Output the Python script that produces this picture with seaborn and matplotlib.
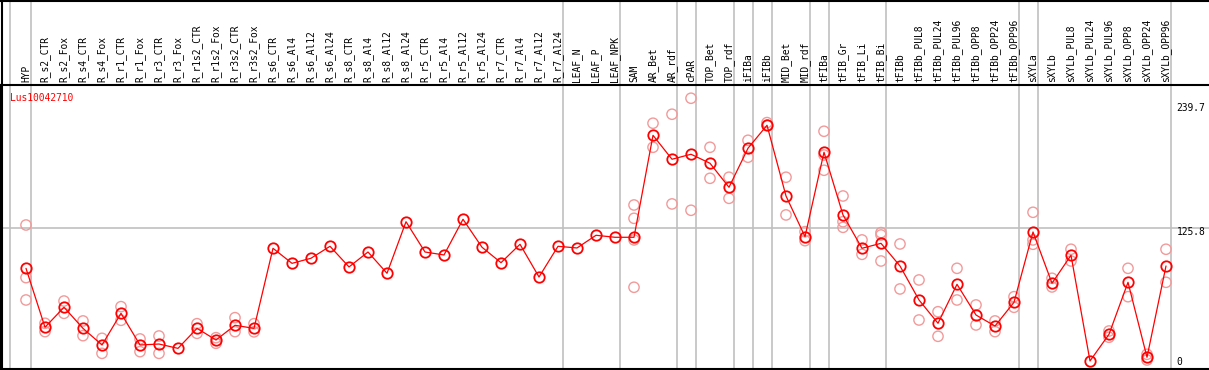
import pandas as pd
import matplotlib
matplotlib.use("Agg")
import matplotlib.pyplot as plt
from matplotlib.lines import Line2D
import seaborn as sns

gene = "Lus10042710"

samples = ["HYP", "R_s2_CTR", "R_s2_Fox", "R_s4_CTR", "R_s4_Fox", "R_r1_CTR", "R_r1_Fox",
           "R_r3_CTR", "R_r3_Fox", "R_r1s2_CTR", "R_r1s2_Fox", "R_r3s2_CTR", "R_r3s2_Fox",
           "R_s6_CTR", "R_s6_Al4", "R_s6_Al12", "R_s6_Al24", "R_s8_CTR", "R_s8_Al4",
           "R_s8_Al12", "R_s8_Al24", "R_r5_CTR", "R_r5_Al4", "R_r5_Al12", "R_r5_Al24",
           "R_r7_CTR", "R_r7_Al4", "R_r7_Al12", "R_r7_Al24", "LEAF_N", "LEAF_P", "LEAF_NPK",
           "SAM", "AR_Bet", "AR_rdf", "cPAR", "TOP_Bet", "TOP_rdf", "iFIBa", "iFIBb",
           "MID_Bet", "MID_rdf", "tFIBa", "tFIB_Gr", "tFIB_Li", "tFIB_Bi", "tFIBb",
           "tFIBb_PUL8", "tFIBb_PUL24", "tFIBb_PUL96", "tFIBb_OPP8", "tFIBb_OPP24",
           "tFIBb_OPP96", "sXYLa", "sXYLb", "sXYLb_PUL8", "sXYLb_PUL24", "sXYLb_PUL96",
           "sXYLb_OPP8", "sXYLb_OPP24", "sXYLb_OPP96"]

means = [88.0, 32.3, 51.2, 31.3, 15.6, 45.5, 15.6, 16.5, 12.4, 31.3, 20.3, 34.2, 31.3,
         106.9, 92.7, 97.5, 108.8, 89.3, 103.4, 83.3, 132.0, 103.4, 100.6, 134.3, 107.9,
         93.3, 110.7, 79.8, 108.8, 107.2, 119.2, 117.3,
         117.3, 213.6, 191.0, 195.7, 187.2, 164.5, 201.4, 223.1, 156.3, 117.9,
         197.6, 138.4, 106.9, 111.6, 90.2, 58.1, 36.1, 72.9, 43.9, 33.5, 55.9,
         122.3, 73.9, 100.3, 0.5, 25.7, 74.8, 4.0, 90.2]

replicates = [[128.9, 79.2, 58.1], [36.1, 28.2], [57.1, 45.5], [38.3, 24.4], [21.9, 7.7],
              [51.8, 38.9], [21.3, 9.3], [24.1, 7.7], [], [35.7, 26.6], [22.5, 17.2],
              [41.4, 28.2], [35.7, 28.0],
              [], [], [], [], [], [], [], [], [], [], [], [], [], [], [], [], [], [], [],
              [147.8, 135.2, 114.8, 70.1], [225.0, 202.3], [233.5, 148.8], [248.6, 142.8],
              [202.3, 173.0], [174.0, 154.1], [208.9, 192.9], [225.6, 223.1],
              [174.0, 138.4], [122.6, 114.1], [217.4, 195.0, 180.6],
              [156.3, 132.0, 126.7], [114.8, 101.2], [121.7, 119.5, 94.9],
              [111.0, 68.5], [77.0, 39.2], [47.0, 23.8], [88.0, 58.1], [53.4, 34.5],
              [38.3, 28.2], [61.2, 51.2], [140.9, 114.8, 110.7], [78.6, 70.4],
              [106.0, 94.9], [], [28.8, 22.9], [88.0, 61.2], [6.8, 1.4], [106.0, 74.8]]

group_ends = [0, 28, 31, 34, 35, 37, 38, 39, 41, 42, 45, 52, 53, 60]
y_ticks = [239.7, 125.8, 0]

df_mean = pd.DataFrame({"pos": range(len(samples)), "value": means})
df_rep = pd.DataFrame([(i, v) for i, reps in enumerate(replicates) for v in reps],
                      columns=["pos", "value"])

sns.set_style("white")
plt.rcParams["font.family"] = ["DejaVu Sans Mono", "DejaVu Sans"]

W, H = 1209, 370
fig = plt.figure(figsize=(W / 100, H / 100), dpi=100)
ax = fig.add_axes([1 / W, 1 / H, 1208 / W, 284 / H])

# vertical group separators run through the label band too
for g in group_ends:
    ax.axvline(g + 0.24, ymin=-0.01, ymax=1.31, color="#c0c0c0", lw=1.2, clip_on=False, zorder=0)
ax.axvline(-0.84, ymin=-0.01, ymax=1.31, color="#c0c0c0", lw=1.2, clip_on=False, zorder=0)
ax.axhline(y_ticks[1], color="#c0c0c0", lw=1.2, zorder=0)

sns.scatterplot(data=df_rep, x="pos", y="value", ax=ax, marker="o", s=55,
                facecolors="none", edgecolors="#f29a9a", linewidth=1.0, zorder=2, legend=False)
sns.lineplot(data=df_mean, x="pos", y="value", ax=ax, color="red", lw=0.9,
             marker="o", markersize=7.5, markerfacecolor="none", markeredgecolor="red",
             markeredgewidth=1.3, zorder=3, legend=False)

ax.set_xlim(-25 / 19, -25 / 19 + 1208 / 19)
ax.set_ylim(-7.08, 261.1)
ax.set_xticks([])
ax.set_yticks([])
ax.set_xlabel("")
ax.set_ylabel("")
for side in ["left", "top", "bottom"]:
    ax.spines[side].set_color("black")
    ax.spines[side].set_linewidth(1.5)
ax.spines["right"].set_visible(False)

fs = 6.9
lab_tr = ax.get_xaxis_transform()
for i, name in enumerate(samples):
    ax.text(i, 1 + 2.5 / 284, name, transform=lab_tr, rotation=90, rotation_mode="anchor",
            ha="left", va="center", fontsize=fs, color="black")

ax.text(-0.84, (369 - 97.7) / 284, gene, transform=lab_tr, color="red", fontsize=fs,
        ha="left", va="center")

offsets = {239.7: 0, 125.8: -4, 0: 0}
for t in y_ticks:
    ax.annotate(f"{t:g}", (60.55, t), xytext=(0, offsets[t]), textcoords="offset pixels",
                ha="left", va="center", fontsize=fs, color="black", annotation_clip=False)

fig.add_artist(Line2D([0, 1], [1 - 0.75 / H, 1 - 0.75 / H], color="black", lw=1.5))
fig.add_artist(Line2D([1.5 / W, 1.5 / W], [0, 1], color="black", lw=1.5))

fig.savefig("out.png", dpi=100)
